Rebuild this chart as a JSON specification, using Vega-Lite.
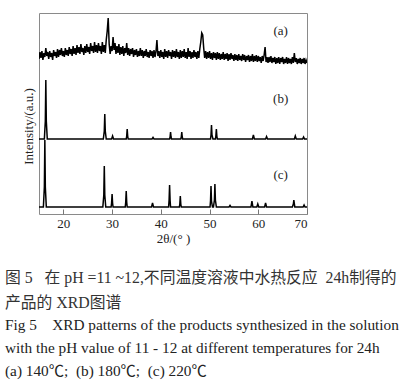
{
  "$schema": "https://vega.github.io/schema/vega-lite/v6.json",
  "width": 268,
  "height": 201,
  "autosize": {"type": "none"},
  "padding": {"left": 39, "top": 13, "right": 109, "bottom": 171},
  "background": "#ffffff",
  "config": {
    "view": {"stroke": "#8a8a8a", "strokeWidth": 1},
    "font": "Liberation Serif"
  },
  "title": {
    "text": ["图 5\u00a0\u00a0 在 pH =11 ~12,不同温度溶液中水热反应\u00a0 24h制得的", "产品的 XRD图谱"],
    "subtitle": ["Fig 5\u00a0\u00a0\u00a0 XRD patterns of the products synthesized in the solution", "with the pH value of 11 - 12 at different temperatures for 24h", "(a) 140℃;\u00a0 (b) 180℃;\u00a0 (c) 220℃"],
    "orient": "bottom",
    "anchor": "start",
    "frame": "group",
    "dx": -34,
    "offset": 26,
    "font": "Liberation Serif, Noto Sans CJK SC",
    "fontSize": 15.8,
    "fontWeight": "normal",
    "lineHeight": 25,
    "color": "#333333",
    "subtitleFont": "Liberation Serif, Noto Sans CJK SC",
    "subtitleFontSize": 15.3,
    "subtitleLineHeight": 23,
    "subtitleColor": "#222222",
    "subtitlePadding": 6
  },
  "datasets": {
    "lines": [
      {"s":"a","x":15.0,"y":155},{"s":"a","x":15.2,"y":162},{"s":"a","x":15.4,"y":156},{"s":"a","x":15.6,"y":163},{"s":"a","x":15.8,"y":154},
      {"s":"a","x":16.0,"y":161},{"s":"a","x":16.2,"y":157},{"s":"a","x":16.4,"y":166},{"s":"a","x":16.6,"y":158},{"s":"a","x":16.8,"y":162},
      {"s":"a","x":17.0,"y":155},{"s":"a","x":17.2,"y":163},{"s":"a","x":17.4,"y":157},{"s":"a","x":17.6,"y":161},{"s":"a","x":17.8,"y":154},
      {"s":"a","x":18.0,"y":164},{"s":"a","x":18.2,"y":158},{"s":"a","x":18.4,"y":162},{"s":"a","x":18.6,"y":156},{"s":"a","x":18.8,"y":165},
      {"s":"a","x":19.0,"y":157},{"s":"a","x":19.2,"y":164},{"s":"a","x":19.4,"y":159},{"s":"a","x":19.6,"y":166},{"s":"a","x":19.8,"y":158},
      {"s":"a","x":20.0,"y":163},{"s":"a","x":20.2,"y":157},{"s":"a","x":20.4,"y":166},{"s":"a","x":20.6,"y":159},{"s":"a","x":20.8,"y":164},
      {"s":"a","x":21.0,"y":158},{"s":"a","x":21.2,"y":167},{"s":"a","x":21.4,"y":160},{"s":"a","x":21.6,"y":165},{"s":"a","x":21.8,"y":158},
      {"s":"a","x":22.0,"y":168},{"s":"a","x":22.2,"y":160},{"s":"a","x":22.4,"y":166},{"s":"a","x":22.6,"y":159},{"s":"a","x":22.8,"y":169},
      {"s":"a","x":23.0,"y":161},{"s":"a","x":23.2,"y":167},{"s":"a","x":23.4,"y":160},{"s":"a","x":23.6,"y":170},{"s":"a","x":23.8,"y":162},
      {"s":"a","x":24.0,"y":166},{"s":"a","x":24.2,"y":159},{"s":"a","x":24.4,"y":168},{"s":"a","x":24.6,"y":161},{"s":"a","x":24.8,"y":170},
      {"s":"a","x":25.0,"y":162},{"s":"a","x":25.2,"y":167},{"s":"a","x":25.4,"y":160},{"s":"a","x":25.6,"y":171},{"s":"a","x":25.8,"y":163},
      {"s":"a","x":26.0,"y":168},{"s":"a","x":26.2,"y":161},{"s":"a","x":26.4,"y":172},{"s":"a","x":26.6,"y":162},{"s":"a","x":26.8,"y":169},
      {"s":"a","x":27.0,"y":161},{"s":"a","x":27.2,"y":171},{"s":"a","x":27.4,"y":163},{"s":"a","x":27.6,"y":168},{"s":"a","x":27.8,"y":160},
      {"s":"a","x":28.0,"y":172},{"s":"a","x":28.2,"y":162},{"s":"a","x":28.4,"y":169},{"s":"a","x":28.6,"y":161},{"s":"a","x":28.8,"y":174},
      {"s":"a","x":29.0,"y":183},{"s":"a","x":29.2,"y":196},{"s":"a","x":29.4,"y":170},{"s":"a","x":29.6,"y":160},{"s":"a","x":29.8,"y":168},
      {"s":"a","x":30.0,"y":163},{"s":"a","x":30.2,"y":177},{"s":"a","x":30.4,"y":164},{"s":"a","x":30.6,"y":171},{"s":"a","x":30.8,"y":160},
      {"s":"a","x":31.0,"y":168},{"s":"a","x":31.2,"y":161},{"s":"a","x":31.4,"y":170},{"s":"a","x":31.6,"y":159},{"s":"a","x":31.8,"y":167},
      {"s":"a","x":32.0,"y":160},{"s":"a","x":32.2,"y":168},{"s":"a","x":32.4,"y":158},{"s":"a","x":32.6,"y":166},{"s":"a","x":32.8,"y":161},
      {"s":"a","x":33.0,"y":171},{"s":"a","x":33.2,"y":159},{"s":"a","x":33.4,"y":166},{"s":"a","x":33.6,"y":158},{"s":"a","x":33.8,"y":165},
      {"s":"a","x":34.0,"y":160},{"s":"a","x":34.2,"y":166},{"s":"a","x":34.4,"y":157},{"s":"a","x":34.6,"y":164},{"s":"a","x":34.8,"y":159},
      {"s":"a","x":35.0,"y":165},{"s":"a","x":35.2,"y":157},{"s":"a","x":35.4,"y":163},{"s":"a","x":35.6,"y":158},{"s":"a","x":35.8,"y":166},
      {"s":"a","x":36.0,"y":158},{"s":"a","x":36.2,"y":164},{"s":"a","x":36.4,"y":156},{"s":"a","x":36.6,"y":163},{"s":"a","x":36.8,"y":158},
      {"s":"a","x":37.0,"y":165},{"s":"a","x":37.2,"y":157},{"s":"a","x":37.4,"y":162},{"s":"a","x":37.6,"y":156},{"s":"a","x":37.8,"y":164},
      {"s":"a","x":38.0,"y":158},{"s":"a","x":38.2,"y":163},{"s":"a","x":38.4,"y":156},{"s":"a","x":38.6,"y":164},{"s":"a","x":38.8,"y":157},
      {"s":"a","x":39.0,"y":162},{"s":"a","x":39.2,"y":174},{"s":"a","x":39.4,"y":158},{"s":"a","x":39.6,"y":163},{"s":"a","x":39.8,"y":156},
      {"s":"a","x":40.0,"y":164},{"s":"a","x":40.2,"y":157},{"s":"a","x":40.4,"y":162},{"s":"a","x":40.6,"y":155},{"s":"a","x":40.8,"y":165},
      {"s":"a","x":41.0,"y":157},{"s":"a","x":41.2,"y":163},{"s":"a","x":41.4,"y":156},{"s":"a","x":41.6,"y":164},{"s":"a","x":41.8,"y":158},
      {"s":"a","x":42.0,"y":162},{"s":"a","x":42.2,"y":155},{"s":"a","x":42.4,"y":164},{"s":"a","x":42.6,"y":157},{"s":"a","x":42.8,"y":163},
      {"s":"a","x":43.0,"y":156},{"s":"a","x":43.2,"y":165},{"s":"a","x":43.4,"y":157},{"s":"a","x":43.6,"y":162},{"s":"a","x":43.8,"y":155},
      {"s":"a","x":44.0,"y":164},{"s":"a","x":44.2,"y":156},{"s":"a","x":44.4,"y":163},{"s":"a","x":44.6,"y":157},{"s":"a","x":44.8,"y":165},
      {"s":"a","x":45.0,"y":156},{"s":"a","x":45.2,"y":162},{"s":"a","x":45.4,"y":155},{"s":"a","x":45.6,"y":166},{"s":"a","x":45.8,"y":157},
      {"s":"a","x":46.0,"y":163},{"s":"a","x":46.2,"y":155},{"s":"a","x":46.4,"y":162},{"s":"a","x":46.6,"y":156},{"s":"a","x":46.8,"y":164},
      {"s":"a","x":47.0,"y":157},{"s":"a","x":47.2,"y":162},{"s":"a","x":47.4,"y":155},{"s":"a","x":47.6,"y":163},{"s":"a","x":47.8,"y":156},
      {"s":"a","x":48.0,"y":165},{"s":"a","x":48.2,"y":172},{"s":"a","x":48.4,"y":181},{"s":"a","x":48.6,"y":179},{"s":"a","x":48.8,"y":166},
      {"s":"a","x":49.0,"y":156},{"s":"a","x":49.2,"y":163},{"s":"a","x":49.4,"y":155},{"s":"a","x":49.6,"y":162},{"s":"a","x":49.8,"y":156},
      {"s":"a","x":50.0,"y":163},{"s":"a","x":50.2,"y":155},{"s":"a","x":50.4,"y":161},{"s":"a","x":50.6,"y":154},{"s":"a","x":50.8,"y":162},
      {"s":"a","x":51.0,"y":156},{"s":"a","x":51.2,"y":161},{"s":"a","x":51.4,"y":154},{"s":"a","x":51.6,"y":162},{"s":"a","x":51.8,"y":155},
      {"s":"a","x":52.0,"y":161},{"s":"a","x":52.2,"y":154},{"s":"a","x":52.4,"y":160},{"s":"a","x":52.6,"y":155},{"s":"a","x":52.8,"y":162},
      {"s":"a","x":53.0,"y":154},{"s":"a","x":53.2,"y":160},{"s":"a","x":53.4,"y":155},{"s":"a","x":53.6,"y":161},{"s":"a","x":53.8,"y":153},
      {"s":"a","x":54.0,"y":160},{"s":"a","x":54.2,"y":154},{"s":"a","x":54.4,"y":161},{"s":"a","x":54.6,"y":155},{"s":"a","x":54.8,"y":159},
      {"s":"a","x":55.0,"y":153},{"s":"a","x":55.2,"y":160},{"s":"a","x":55.4,"y":154},{"s":"a","x":55.6,"y":159},{"s":"a","x":55.8,"y":153},
      {"s":"a","x":56.0,"y":160},{"s":"a","x":56.2,"y":154},{"s":"a","x":56.4,"y":158},{"s":"a","x":56.6,"y":153},{"s":"a","x":56.8,"y":160},
      {"s":"a","x":57.0,"y":154},{"s":"a","x":57.2,"y":159},{"s":"a","x":57.4,"y":152},{"s":"a","x":57.6,"y":158},{"s":"a","x":57.8,"y":154},
      {"s":"a","x":58.0,"y":159},{"s":"a","x":58.2,"y":152},{"s":"a","x":58.4,"y":158},{"s":"a","x":58.6,"y":153},{"s":"a","x":58.8,"y":160},
      {"s":"a","x":59.0,"y":152},{"s":"a","x":59.2,"y":158},{"s":"a","x":59.4,"y":153},{"s":"a","x":59.6,"y":159},{"s":"a","x":59.8,"y":152},
      {"s":"a","x":60.0,"y":158},{"s":"a","x":60.2,"y":153},{"s":"a","x":60.4,"y":157},{"s":"a","x":60.6,"y":151},{"s":"a","x":60.8,"y":158},
      {"s":"a","x":61.0,"y":153},{"s":"a","x":61.2,"y":159},{"s":"a","x":61.4,"y":167},{"s":"a","x":61.6,"y":152},{"s":"a","x":61.8,"y":157},
      {"s":"a","x":62.0,"y":151},{"s":"a","x":62.2,"y":157},{"s":"a","x":62.4,"y":152},{"s":"a","x":62.6,"y":158},{"s":"a","x":62.8,"y":151},
      {"s":"a","x":63.0,"y":156},{"s":"a","x":63.2,"y":152},{"s":"a","x":63.4,"y":157},{"s":"a","x":63.6,"y":150},{"s":"a","x":63.8,"y":156},
      {"s":"a","x":64.0,"y":151},{"s":"a","x":64.2,"y":157},{"s":"a","x":64.4,"y":150},{"s":"a","x":64.6,"y":156},{"s":"a","x":64.8,"y":152},
      {"s":"a","x":65.0,"y":157},{"s":"a","x":65.2,"y":150},{"s":"a","x":65.4,"y":155},{"s":"a","x":65.6,"y":151},{"s":"a","x":65.8,"y":157},
      {"s":"a","x":66.0,"y":150},{"s":"a","x":66.2,"y":156},{"s":"a","x":66.4,"y":151},{"s":"a","x":66.6,"y":155},{"s":"a","x":66.8,"y":150},
      {"s":"a","x":67.0,"y":157},{"s":"a","x":67.2,"y":151},{"s":"a","x":67.4,"y":161},{"s":"a","x":67.6,"y":152},{"s":"a","x":67.8,"y":156},
      {"s":"a","x":68.0,"y":150},{"s":"a","x":68.2,"y":155},{"s":"a","x":68.4,"y":151},{"s":"a","x":68.6,"y":156},{"s":"a","x":68.8,"y":150},
      {"s":"a","x":69.0,"y":155},{"s":"a","x":69.2,"y":151},{"s":"a","x":69.4,"y":156},{"s":"a","x":69.6,"y":150},{"s":"a","x":69.8,"y":154},
      {"s":"a","x":70.0,"y":151},

      {"s":"b","x":15.0,"y":75},{"s":"b","x":16.1,"y":75},{"s":"b","x":16.3,"y":93},{"s":"b","x":16.4,"y":134},{"s":"b","x":16.5,"y":93},{"s":"b","x":16.7,"y":75},
      {"s":"b","x":28.2,"y":75},{"s":"b","x":28.4,"y":83},{"s":"b","x":28.5,"y":100},{"s":"b","x":28.6,"y":83},{"s":"b","x":28.8,"y":75},
      {"s":"b","x":29.9,"y":75},{"s":"b","x":30.1,"y":78},{"s":"b","x":30.3,"y":75},
      {"s":"b","x":32.9,"y":75},{"s":"b","x":33.0,"y":78},{"s":"b","x":33.1,"y":85},{"s":"b","x":33.2,"y":78},{"s":"b","x":33.3,"y":75},
      {"s":"b","x":38.2,"y":75},{"s":"b","x":38.4,"y":76.5},{"s":"b","x":38.6,"y":75},
      {"s":"b","x":41.8,"y":75},{"s":"b","x":41.9,"y":77},{"s":"b","x":42.0,"y":82},{"s":"b","x":42.1,"y":77},{"s":"b","x":42.2,"y":75},
      {"s":"b","x":44.1,"y":75},{"s":"b","x":44.2,"y":77},{"s":"b","x":44.3,"y":82},{"s":"b","x":44.4,"y":77},{"s":"b","x":44.5,"y":75},
      {"s":"b","x":50.2,"y":75},{"s":"b","x":50.3,"y":79},{"s":"b","x":50.4,"y":89},{"s":"b","x":50.5,"y":79},{"s":"b","x":50.7,"y":75},
      {"s":"b","x":51.2,"y":75},{"s":"b","x":51.3,"y":78},{"s":"b","x":51.4,"y":85},{"s":"b","x":51.5,"y":78},{"s":"b","x":51.6,"y":75},
      {"s":"b","x":58.8,"y":75},{"s":"b","x":59.0,"y":79},{"s":"b","x":59.2,"y":75},
      {"s":"b","x":61.5,"y":75},{"s":"b","x":61.7,"y":77.5},{"s":"b","x":61.9,"y":75},
      {"s":"b","x":67.4,"y":75},{"s":"b","x":67.6,"y":78},{"s":"b","x":67.8,"y":75},
      {"s":"b","x":69.1,"y":75},{"s":"b","x":69.3,"y":77},{"s":"b","x":69.5,"y":75},{"s":"b","x":70.0,"y":75},

      {"s":"c","x":15.0,"y":7},{"s":"c","x":15.9,"y":7},{"s":"c","x":16.1,"y":27},{"s":"c","x":16.2,"y":74},{"s":"c","x":16.3,"y":27},{"s":"c","x":16.5,"y":7},
      {"s":"c","x":28.1,"y":7},{"s":"c","x":28.3,"y":19},{"s":"c","x":28.4,"y":48},{"s":"c","x":28.5,"y":19},{"s":"c","x":28.7,"y":7},
      {"s":"c","x":29.8,"y":7},{"s":"c","x":29.9,"y":11},{"s":"c","x":30.0,"y":20},{"s":"c","x":30.1,"y":11},{"s":"c","x":30.2,"y":7},
      {"s":"c","x":32.7,"y":7},{"s":"c","x":32.8,"y":12},{"s":"c","x":32.9,"y":23},{"s":"c","x":33.0,"y":12},{"s":"c","x":33.1,"y":7},
      {"s":"c","x":38.1,"y":7},{"s":"c","x":38.3,"y":11},{"s":"c","x":38.5,"y":7},
      {"s":"c","x":41.6,"y":7},{"s":"c","x":41.7,"y":14},{"s":"c","x":41.8,"y":29},{"s":"c","x":41.9,"y":14},{"s":"c","x":42.0,"y":7},
      {"s":"c","x":43.8,"y":7},{"s":"c","x":43.9,"y":10},{"s":"c","x":44.0,"y":18},{"s":"c","x":44.1,"y":10},{"s":"c","x":44.2,"y":7},
      {"s":"c","x":50.1,"y":7},{"s":"c","x":50.2,"y":13},{"s":"c","x":50.3,"y":28},{"s":"c","x":50.4,"y":13},{"s":"c","x":50.6,"y":7},
      {"s":"c","x":50.8,"y":7},{"s":"c","x":51.0,"y":14},{"s":"c","x":51.1,"y":30},{"s":"c","x":51.2,"y":14},{"s":"c","x":51.4,"y":7},
      {"s":"c","x":54.0,"y":7},{"s":"c","x":54.2,"y":8.5},{"s":"c","x":54.4,"y":7},
      {"s":"c","x":58.5,"y":7},{"s":"c","x":58.7,"y":13},{"s":"c","x":58.9,"y":7},
      {"s":"c","x":59.7,"y":7},{"s":"c","x":59.9,"y":10},{"s":"c","x":60.1,"y":7},
      {"s":"c","x":61.3,"y":7},{"s":"c","x":61.5,"y":11},{"s":"c","x":61.7,"y":7},
      {"s":"c","x":67.0,"y":7},{"s":"c","x":67.2,"y":10},{"s":"c","x":67.3,"y":14},{"s":"c","x":67.5,"y":7},
      {"s":"c","x":69.2,"y":7},{"s":"c","x":69.4,"y":9},{"s":"c","x":69.6,"y":7},{"s":"c","x":70.0,"y":7}
    ],
    "labels": [
      {"label": "(a)", "x": 64.6, "y": 183},
      {"label": "(b)", "x": 64.6, "y": 115},
      {"label": "(c)", "x": 64.6, "y": 39}
    ]
  },
  "encoding": {
    "x": {
      "field": "x", "type": "quantitative",
      "scale": {"domain": [15, 70], "nice": false, "zero": false},
      "axis": {
        "title": "2θ/(°  )",
        "values": [20, 30, 40, 50, 60, 70],
        "grid": false,
        "domain": false,
        "tickSize": -5,
        "tickColor": "#777777",
        "labelFont": "Liberation Serif",
        "labelFontSize": 13,
        "labelColor": "#222222",
        "labelPadding": 8,
        "titleFont": "Liberation Serif",
        "titleFontSize": 13,
        "titleFontWeight": "normal",
        "titleColor": "#222222",
        "titlePadding": 2
      }
    },
    "y": {
      "field": "y", "type": "quantitative",
      "scale": {"domain": [0, 201], "nice": false},
      "axis": {
        "title": "Intensity/(a.u.)",
        "ticks": false,
        "labels": false,
        "domain": false,
        "grid": false,
        "minExtent": 0,
        "titleFont": "Liberation Serif",
        "titleFontSize": 13,
        "titleFontWeight": "normal",
        "titleColor": "#222222",
        "titleAngle": -90,
        "titleBaseline": "middle",
        "titleAlign": "center",
        "titleX": -11,
        "titleY": 113
      }
    }
  },
  "layer": [
    {
      "data": {"name": "lines"},
      "mark": {"type": "line", "color": "#000000", "strokeWidth": 1.5, "clip": true},
      "encoding": {"detail": {"field": "s"}}
    },
    {
      "data": {"name": "labels"},
      "mark": {"type": "text", "font": "Liberation Serif", "fontSize": 13, "color": "#222222"},
      "encoding": {"text": {"field": "label"}}
    }
  ]
}
